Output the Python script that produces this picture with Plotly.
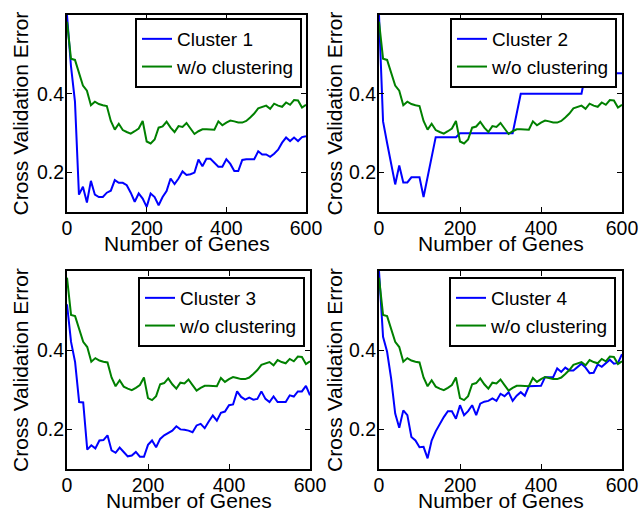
import plotly.graph_objects as go

genes = [0, 10, 20, 30, 40, 50, 60, 70, 80, 90,
         100, 110, 120, 130, 140, 150, 160, 170, 180, 190,
         200, 210, 220, 230, 240, 250, 260, 270, 280, 290,
         300, 310, 320, 330, 340, 350, 360, 370, 380, 390,
         400, 410, 420, 430, 440, 450, 460, 470, 480, 490,
         500, 510, 520, 530, 540, 550, 560, 570, 580, 590, 600]

no_clustering = [0.583, 0.489, 0.486, 0.455, 0.421, 0.408, 0.371, 0.380, 0.374, 0.371,
                 0.369, 0.331, 0.309, 0.324, 0.308, 0.303, 0.299, 0.305, 0.312, 0.331,
                 0.279, 0.274, 0.284, 0.314, 0.317, 0.329, 0.314, 0.303, 0.318, 0.316,
                 0.326, 0.312, 0.298, 0.305, 0.310, 0.310, 0.310, 0.309, 0.330, 0.320,
                 0.327, 0.332, 0.330, 0.327, 0.327, 0.331, 0.340, 0.350, 0.363, 0.366,
                 0.370, 0.362, 0.375, 0.370, 0.367, 0.378, 0.372, 0.384, 0.383, 0.365,
                 0.372]

cluster1 = [0.600, 0.470, 0.380, 0.144, 0.164, 0.124, 0.179, 0.144, 0.138, 0.138,
            0.149, 0.154, 0.181, 0.174, 0.174, 0.168, 0.149, 0.126, 0.147, 0.134,
            0.113, 0.147, 0.138, 0.117, 0.138, 0.153, 0.185, 0.171, 0.185, 0.203,
            0.194, 0.196, 0.200, 0.233, 0.216, 0.235, 0.235, 0.226, 0.215, 0.215,
            0.234, 0.222, 0.204, 0.204, 0.232, 0.234, 0.234, 0.234, 0.254, 0.246,
            0.246, 0.240, 0.248, 0.258, 0.276, 0.289, 0.280, 0.289, 0.280, 0.290,
            0.292]

cluster2 = [0.600, 0.330, 0.275, 0.220, 0.170, 0.218, 0.175, 0.175, 0.188, 0.188,
            0.188, 0.138, 0.188, 0.239, 0.290, 0.290, 0.290, 0.290, 0.290, 0.290,
            0.300, 0.300, 0.300, 0.300, 0.300, 0.300, 0.300, 0.300, 0.300, 0.300,
            0.300, 0.300, 0.300, 0.300, 0.350, 0.400, 0.400, 0.400, 0.400, 0.400,
            0.400, 0.400, 0.400, 0.400, 0.400, 0.400, 0.400, 0.400, 0.400, 0.400,
            0.400, 0.452, 0.452, 0.452, 0.452, 0.452, 0.452, 0.452, 0.452, 0.452,
            0.452]

cluster3 = [0.516, 0.421, 0.370, 0.269, 0.268, 0.149, 0.160, 0.152, 0.172, 0.173,
            0.185, 0.147, 0.141, 0.154, 0.143, 0.132, 0.134, 0.143, 0.131, 0.131,
            0.161, 0.172, 0.155, 0.176, 0.185, 0.191, 0.197, 0.208, 0.200, 0.199,
            0.197, 0.193, 0.210, 0.214, 0.203, 0.220, 0.235, 0.222, 0.242, 0.245,
            0.261, 0.263, 0.296, 0.282, 0.275, 0.280, 0.275, 0.277, 0.296, 0.277,
            0.269, 0.283, 0.269, 0.269, 0.269, 0.286, 0.283, 0.296, 0.296, 0.310,
            0.286]

cluster4 = [0.600, 0.434, 0.396, 0.328, 0.240, 0.204, 0.248, 0.236, 0.181, 0.172,
            0.155, 0.156, 0.127, 0.172, 0.195, 0.214, 0.231, 0.246, 0.246, 0.227,
            0.261, 0.236, 0.246, 0.261, 0.236, 0.265, 0.270, 0.272, 0.278, 0.272,
            0.290, 0.284, 0.294, 0.272, 0.285, 0.294, 0.285, 0.309, 0.309, 0.309,
            0.310, 0.332, 0.332, 0.332, 0.354, 0.345, 0.356, 0.349, 0.349, 0.358,
            0.366, 0.356, 0.342, 0.343, 0.364, 0.358, 0.366, 0.376, 0.366, 0.368,
            0.390]

cluster_names = ["Cluster 1", "Cluster 2", "Cluster 3", "Cluster 4"]
cluster_series = [cluster1, cluster2, cluster3, cluster4]
baseline_name = "w/o clustering"
x_ticks = [0, 200, 400, 600]
y_ticks = [0.2, 0.4]
x_title = "Number of Genes"
y_title = "Cross Validation Error"

W, H = 641, 512
FONT = "Liberation Sans, Arial, Helvetica, sans-serif"
BLUE = "#0000FF"
GREEN = "#008000"

# plot-area boxes in pixels: (left, right, top, bottom)
boxes = [(67, 306, 15, 212), (379, 622, 15, 212),
         (67, 310, 271, 469), (379, 622, 271, 469)]
legend_boxes = [(302, 18), (617, 18), (305, 277), (616, 277)]
ytitle_x = [20, 334, 20, 334]

fig = go.Figure()
annotations = []
layout = dict(
    width=W, height=H,
    margin=dict(l=0, r=0, t=0, b=0),
    paper_bgcolor="white", plot_bgcolor="white",
    font=dict(family=FONT, color="black", size=19),
    showlegend=True,
)

for i in range(4):
    k = "" if i == 0 else str(i + 1)
    xa, ya = "x" + k, "y" + k
    lg = "legend" + k
    fig.add_trace(go.Scatter(x=genes, y=cluster_series[i], mode="lines",
                             name=cluster_names[i], line=dict(color=BLUE, width=2),
                             xaxis=xa, yaxis=ya, legend=lg))
    fig.add_trace(go.Scatter(x=genes, y=no_clustering, mode="lines",
                             name=baseline_name, line=dict(color=GREEN, width=2),
                             xaxis=xa, yaxis=ya, legend=lg))
    l, r, t, b = boxes[i]
    layout["xaxis" + k] = dict(
        domain=[l / W, r / W], anchor=ya, range=[0, 600],
        tickvals=x_ticks, ticks="inside", ticklen=5, tickcolor="black",
        showline=True, linecolor="black", linewidth=2, mirror="ticks",
        showgrid=False, zeroline=False, automargin=False,
        tickfont=dict(size=19.5, family=FONT), ticklabelstandoff=-2,
    )
    layout["yaxis" + k] = dict(
        domain=[1 - b / H, 1 - t / H], anchor=xa, range=[0.1, 0.6],
        tickvals=y_ticks, ticktext=["0.2", "0.4"], ticks="inside", ticklen=5,
        tickcolor="black",
        showline=True, linecolor="black", linewidth=2, mirror="ticks",
        showgrid=False, zeroline=False, automargin=False,
        tickfont=dict(size=19.5, family=FONT), ticklabelstandoff=-3,
    )
    annotations.append(dict(
        text=x_title, xref="paper", yref="paper",
        x=(l + r) / 2 / W, y=1 - (b + 31) / H,
        xanchor="center", yanchor="middle", showarrow=False,
        font=dict(size=21, family=FONT, color="black"),
    ))
    annotations.append(dict(
        text=y_title, xref="paper", yref="paper",
        x=ytitle_x[i] / W, y=1 - (t + b) / 2 / H,
        xanchor="center", yanchor="middle", showarrow=False, textangle=-90,
        font=dict(size=21, family=FONT, color="black"),
    ))
    lx, ly = legend_boxes[i]
    layout[lg] = dict(
        x=lx / W, y=1 - ly / H, xanchor="right", yanchor="top",
        xref="paper", yref="paper",
        bgcolor="white", bordercolor="black", borderwidth=2,
        font=dict(size=19, family=FONT, color="black"),
        tracegroupgap=0,
    )

layout["annotations"] = annotations
fig.update_layout(**layout)
fig.write_html("out.html")
